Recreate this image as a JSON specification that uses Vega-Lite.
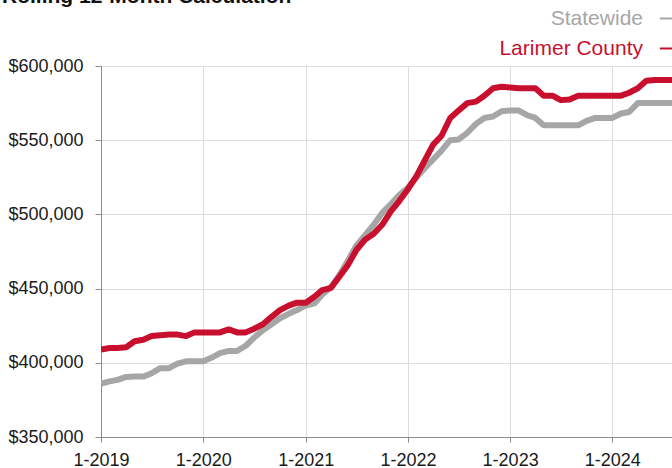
{
  "$schema": "https://vega.github.io/schema/vega-lite/v6.json",
  "width": 571,
  "height": 371,
  "autosize": {"type": "none"},
  "padding": {"left": 101, "top": 66, "right": 0, "bottom": 31},
  "background": "white",
  "title": {
    "text": "Rolling 12-Month Calculation",
    "anchor": "start",
    "frame": "group",
    "orient": "top",
    "baseline": "alphabetic",
    "offset": 4,
    "dy": 20,
    "dx": -99,
    "font": "Liberation Sans",
    "fontSize": 21,
    "fontWeight": "bold",
    "color": "#111111"
  },
  "config": {
    "font": "Liberation Sans",
    "view": {"stroke": "#a8a8a8", "strokeWidth": 1},
    "axis": {
      "labelFont": "Liberation Sans",
      "labelFontSize": 18,
      "labelColor": "#1a1a1a",
      "domainColor": "#8c8c8c",
      "tickColor": "#8c8c8c",
      "gridColor": "#dcdcdc",
      "gridWidth": 1,
      "title": null
    }
  },
  "data": {
    "values": [
      {"date": "2019-01-01", "series": "Statewide", "price": 386000},
      {"date": "2019-02-01", "series": "Statewide", "price": 387500},
      {"date": "2019-03-01", "series": "Statewide", "price": 388500},
      {"date": "2019-04-01", "series": "Statewide", "price": 390500},
      {"date": "2019-05-01", "series": "Statewide", "price": 390700},
      {"date": "2019-06-01", "series": "Statewide", "price": 390700},
      {"date": "2019-07-01", "series": "Statewide", "price": 393000},
      {"date": "2019-08-01", "series": "Statewide", "price": 396400},
      {"date": "2019-09-01", "series": "Statewide", "price": 396400},
      {"date": "2019-10-01", "series": "Statewide", "price": 399400},
      {"date": "2019-11-01", "series": "Statewide", "price": 401000},
      {"date": "2019-12-01", "series": "Statewide", "price": 401000},
      {"date": "2020-01-01", "series": "Statewide", "price": 401000},
      {"date": "2020-02-01", "series": "Statewide", "price": 403500},
      {"date": "2020-03-01", "series": "Statewide", "price": 406500},
      {"date": "2020-04-01", "series": "Statewide", "price": 408000},
      {"date": "2020-05-01", "series": "Statewide", "price": 408000},
      {"date": "2020-06-01", "series": "Statewide", "price": 411500},
      {"date": "2020-07-01", "series": "Statewide", "price": 417000},
      {"date": "2020-08-01", "series": "Statewide", "price": 422000},
      {"date": "2020-09-01", "series": "Statewide", "price": 426000},
      {"date": "2020-10-01", "series": "Statewide", "price": 430000},
      {"date": "2020-11-01", "series": "Statewide", "price": 433000},
      {"date": "2020-12-01", "series": "Statewide", "price": 435600},
      {"date": "2021-01-01", "series": "Statewide", "price": 438500},
      {"date": "2021-02-01", "series": "Statewide", "price": 440000},
      {"date": "2021-03-01", "series": "Statewide", "price": 446000},
      {"date": "2021-04-01", "series": "Statewide", "price": 451000},
      {"date": "2021-05-01", "series": "Statewide", "price": 459000},
      {"date": "2021-06-01", "series": "Statewide", "price": 469000},
      {"date": "2021-07-01", "series": "Statewide", "price": 479000},
      {"date": "2021-08-01", "series": "Statewide", "price": 486000},
      {"date": "2021-09-01", "series": "Statewide", "price": 493000},
      {"date": "2021-10-01", "series": "Statewide", "price": 501000},
      {"date": "2021-11-01", "series": "Statewide", "price": 507000},
      {"date": "2021-12-01", "series": "Statewide", "price": 513000},
      {"date": "2022-01-01", "series": "Statewide", "price": 518000},
      {"date": "2022-02-01", "series": "Statewide", "price": 525000},
      {"date": "2022-03-01", "series": "Statewide", "price": 531000},
      {"date": "2022-04-01", "series": "Statewide", "price": 537000},
      {"date": "2022-05-01", "series": "Statewide", "price": 543000},
      {"date": "2022-06-01", "series": "Statewide", "price": 550000},
      {"date": "2022-07-01", "series": "Statewide", "price": 550500},
      {"date": "2022-08-01", "series": "Statewide", "price": 555000},
      {"date": "2022-09-01", "series": "Statewide", "price": 561000},
      {"date": "2022-10-01", "series": "Statewide", "price": 565000},
      {"date": "2022-11-01", "series": "Statewide", "price": 566000},
      {"date": "2022-12-01", "series": "Statewide", "price": 569500},
      {"date": "2023-01-01", "series": "Statewide", "price": 570000},
      {"date": "2023-02-01", "series": "Statewide", "price": 570000},
      {"date": "2023-03-01", "series": "Statewide", "price": 567000},
      {"date": "2023-04-01", "series": "Statewide", "price": 565000},
      {"date": "2023-05-01", "series": "Statewide", "price": 560000},
      {"date": "2023-06-01", "series": "Statewide", "price": 560000},
      {"date": "2023-07-01", "series": "Statewide", "price": 560000},
      {"date": "2023-08-01", "series": "Statewide", "price": 560000},
      {"date": "2023-09-01", "series": "Statewide", "price": 560000},
      {"date": "2023-10-01", "series": "Statewide", "price": 563000},
      {"date": "2023-11-01", "series": "Statewide", "price": 565000},
      {"date": "2023-12-01", "series": "Statewide", "price": 565000},
      {"date": "2024-01-01", "series": "Statewide", "price": 565000},
      {"date": "2024-02-01", "series": "Statewide", "price": 568000},
      {"date": "2024-03-01", "series": "Statewide", "price": 569000},
      {"date": "2024-04-01", "series": "Statewide", "price": 575000},
      {"date": "2024-05-01", "series": "Statewide", "price": 575000},
      {"date": "2024-06-01", "series": "Statewide", "price": 575000},
      {"date": "2024-07-01", "series": "Statewide", "price": 575000},
      {"date": "2024-08-01", "series": "Statewide", "price": 575000},
      {"date": "2019-01-01", "series": "Larimer County", "price": 409000},
      {"date": "2019-02-01", "series": "Larimer County", "price": 410000},
      {"date": "2019-03-01", "series": "Larimer County", "price": 410000},
      {"date": "2019-04-01", "series": "Larimer County", "price": 410500},
      {"date": "2019-05-01", "series": "Larimer County", "price": 414500},
      {"date": "2019-06-01", "series": "Larimer County", "price": 415500},
      {"date": "2019-07-01", "series": "Larimer County", "price": 418000},
      {"date": "2019-08-01", "series": "Larimer County", "price": 418500},
      {"date": "2019-09-01", "series": "Larimer County", "price": 419000},
      {"date": "2019-10-01", "series": "Larimer County", "price": 419000},
      {"date": "2019-11-01", "series": "Larimer County", "price": 418000},
      {"date": "2019-12-01", "series": "Larimer County", "price": 420500},
      {"date": "2020-01-01", "series": "Larimer County", "price": 420500},
      {"date": "2020-02-01", "series": "Larimer County", "price": 420500},
      {"date": "2020-03-01", "series": "Larimer County", "price": 420500},
      {"date": "2020-04-01", "series": "Larimer County", "price": 422500},
      {"date": "2020-05-01", "series": "Larimer County", "price": 420500},
      {"date": "2020-06-01", "series": "Larimer County", "price": 420500},
      {"date": "2020-07-01", "series": "Larimer County", "price": 423000},
      {"date": "2020-08-01", "series": "Larimer County", "price": 426000},
      {"date": "2020-09-01", "series": "Larimer County", "price": 431000},
      {"date": "2020-10-01", "series": "Larimer County", "price": 435500},
      {"date": "2020-11-01", "series": "Larimer County", "price": 438500},
      {"date": "2020-12-01", "series": "Larimer County", "price": 440500},
      {"date": "2021-01-01", "series": "Larimer County", "price": 440500},
      {"date": "2021-02-01", "series": "Larimer County", "price": 444500},
      {"date": "2021-03-01", "series": "Larimer County", "price": 449000},
      {"date": "2021-04-01", "series": "Larimer County", "price": 450500},
      {"date": "2021-05-01", "series": "Larimer County", "price": 458000},
      {"date": "2021-06-01", "series": "Larimer County", "price": 466000},
      {"date": "2021-07-01", "series": "Larimer County", "price": 476000},
      {"date": "2021-08-01", "series": "Larimer County", "price": 483000},
      {"date": "2021-09-01", "series": "Larimer County", "price": 487000},
      {"date": "2021-10-01", "series": "Larimer County", "price": 493000},
      {"date": "2021-11-01", "series": "Larimer County", "price": 502000},
      {"date": "2021-12-01", "series": "Larimer County", "price": 509000},
      {"date": "2022-01-01", "series": "Larimer County", "price": 517000},
      {"date": "2022-02-01", "series": "Larimer County", "price": 526000},
      {"date": "2022-03-01", "series": "Larimer County", "price": 536000},
      {"date": "2022-04-01", "series": "Larimer County", "price": 547000},
      {"date": "2022-05-01", "series": "Larimer County", "price": 553000},
      {"date": "2022-06-01", "series": "Larimer County", "price": 565000},
      {"date": "2022-07-01", "series": "Larimer County", "price": 570000},
      {"date": "2022-08-01", "series": "Larimer County", "price": 575000},
      {"date": "2022-09-01", "series": "Larimer County", "price": 576000},
      {"date": "2022-10-01", "series": "Larimer County", "price": 580000},
      {"date": "2022-11-01", "series": "Larimer County", "price": 585000},
      {"date": "2022-12-01", "series": "Larimer County", "price": 586000},
      {"date": "2023-01-01", "series": "Larimer County", "price": 585500},
      {"date": "2023-02-01", "series": "Larimer County", "price": 585000},
      {"date": "2023-03-01", "series": "Larimer County", "price": 585000},
      {"date": "2023-04-01", "series": "Larimer County", "price": 585000},
      {"date": "2023-05-01", "series": "Larimer County", "price": 580000},
      {"date": "2023-06-01", "series": "Larimer County", "price": 580000},
      {"date": "2023-07-01", "series": "Larimer County", "price": 577000},
      {"date": "2023-08-01", "series": "Larimer County", "price": 577500},
      {"date": "2023-09-01", "series": "Larimer County", "price": 580000},
      {"date": "2023-10-01", "series": "Larimer County", "price": 580000},
      {"date": "2023-11-01", "series": "Larimer County", "price": 580000},
      {"date": "2023-12-01", "series": "Larimer County", "price": 580000},
      {"date": "2024-01-01", "series": "Larimer County", "price": 580000},
      {"date": "2024-02-01", "series": "Larimer County", "price": 580000},
      {"date": "2024-03-01", "series": "Larimer County", "price": 582000},
      {"date": "2024-04-01", "series": "Larimer County", "price": 585000},
      {"date": "2024-05-01", "series": "Larimer County", "price": 590000},
      {"date": "2024-06-01", "series": "Larimer County", "price": 590500},
      {"date": "2024-07-01", "series": "Larimer County", "price": 590500},
      {"date": "2024-08-01", "series": "Larimer County", "price": 590500}
    ]
  },
  "mark": {"type": "line", "strokeWidth": 6, "strokeJoin": "round", "strokeCap": "butt", "clip": true},
  "encoding": {
    "x": {
      "field": "date",
      "type": "temporal",
      "scale": {"type": "utc", "domain": [{"year": 2019, "month": 1, "date": 1, "utc": true}, {"year": 2024, "month": 8, "date": 1, "utc": true}], "nice": false},
      "axis": {
        "values": [
          {"year": 2019, "month": 1, "date": 1, "utc": true},
          {"year": 2020, "month": 1, "date": 1, "utc": true},
          {"year": 2021, "month": 1, "date": 1, "utc": true},
          {"year": 2022, "month": 1, "date": 1, "utc": true},
          {"year": 2023, "month": 1, "date": 1, "utc": true},
          {"year": 2024, "month": 1, "date": 1, "utc": true}
        ],
        "format": "%-m-%Y",
        "tickSize": 5,
        "labelPadding": 9,
        "grid": true,
        "labelFlush": false,
        "labelOverlap": false
      }
    },
    "y": {
      "field": "price",
      "type": "quantitative",
      "scale": {"domain": [350000, 600000], "nice": false, "zero": false},
      "axis": {
        "values": [350000, 400000, 450000, 500000, 550000, 600000],
        "format": "$,d",
        "tickSize": 6,
        "labelPadding": 12,
        "grid": true
      }
    },
    "color": {
      "field": "series",
      "type": "nominal",
      "sort": ["Statewide", "Larimer County"],
      "scale": {"domain": ["Statewide", "Larimer County"], "range": ["#a6a6a6", "#c8102e"]},
      "legend": {
        "title": null,
        "orient": "none",
        "legendX": 557,
        "legendY": -58,
        "padding": 0,
        "symbolType": "stroke",
        "symbolSize": 300,
        "symbolStrokeWidth": 2,
        "labelFontSize": 21,
        "labelFont": "Liberation Sans",
        "labelAlign": "right",
        "labelOffset": -36,
        "labelLimit": 400,
        "rowPadding": 8,
        "encode": {
          "labels": {"update": {"fill": {"scale": "color", "field": "value"}}}
        }
      }
    }
  }
}
